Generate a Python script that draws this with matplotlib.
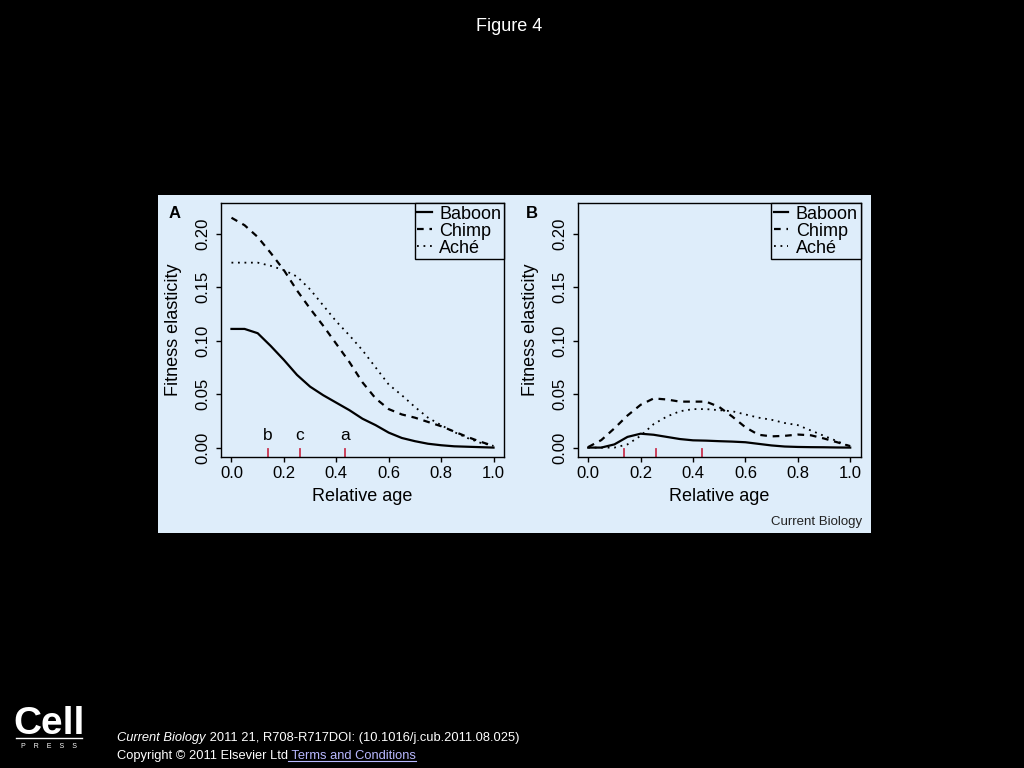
import matplotlib
matplotlib.use("Agg")
import matplotlib.pyplot as plt
from matplotlib.patches import Rectangle
from matplotlib.lines import Line2D

plt.rcParams['font.family'] = ['Liberation Sans', 'DejaVu Sans']

# relative age grid and fitness elasticities
age = [0.0, 0.05, 0.10, 0.15, 0.20, 0.25, 0.30, 0.35, 0.40, 0.45, 0.50,
       0.55, 0.60, 0.65, 0.70, 0.75, 0.80, 0.85, 0.90, 0.95, 1.0]

# panel A
baboon_a = [0.111, 0.111, 0.107, 0.095, 0.082, 0.068, 0.057, 0.049, 0.042, 0.035, 0.027,
            0.021, 0.014, 0.009, 0.006, 0.0036, 0.0022, 0.0012, 0.0008, 0.0004, 0.0]
chimp_a = [0.215, 0.208, 0.197, 0.182, 0.166, 0.147, 0.130, 0.114, 0.097, 0.080, 0.061,
           0.046, 0.036, 0.031, 0.028, 0.024, 0.020, 0.015, 0.010, 0.0055, 0.0016]
ache_a = [0.173, 0.173, 0.173, 0.170, 0.166, 0.160, 0.148, 0.133, 0.118, 0.105, 0.091,
          0.075, 0.059, 0.049, 0.038, 0.028, 0.021, 0.0145, 0.009, 0.0045, 0.0016]

# panel B
baboon_b = [0.0, 0.0, 0.003, 0.010, 0.013, 0.012, 0.010, 0.008, 0.0068, 0.0065, 0.0060,
            0.0056, 0.0050, 0.0035, 0.0020, 0.0010, 0.0006, 0.0004, 0.0003, 0.0001, 0.0]
chimp_b = [0.0005, 0.007, 0.018, 0.030, 0.040, 0.046, 0.045, 0.043, 0.043, 0.043, 0.038,
           0.029, 0.019, 0.012, 0.0105, 0.011, 0.0122, 0.0115, 0.0085, 0.005, 0.0014]
ache_b = [0.0, 0.0, 0.0, 0.003, 0.011, 0.022, 0.029, 0.034, 0.036, 0.036, 0.035,
          0.034, 0.031, 0.028, 0.026, 0.023, 0.021, 0.016, 0.011, 0.006, 0.0008]

rug_x = [0.138, 0.26, 0.435]
rug_labels = ['b', 'c', 'a']

x_ticks = [0.0, 0.2, 0.4, 0.6, 0.8, 1.0]
y_ticks = [0.00, 0.05, 0.10, 0.15, 0.20]

bg = '#deedfa'
rug_col = '#c8324e'

fig = plt.figure(figsize=(10.24, 7.68), dpi=100, facecolor='black')
fig.add_artist(Rectangle((158 / 1024, 1 - 533 / 768), 713 / 1024, 338 / 768,
                         transform=fig.transFigure, facecolor=bg, edgecolor='none',
                         zorder=-10))

panels = [
    ('A', 221, baboon_a, chimp_a, ache_a, True),
    ('B', 577.7, baboon_b, chimp_b, ache_b, False),
]

for letter, left_px, bab, chi, ach, show_letters in panels:
    ax = fig.add_axes([left_px / 1024, 1 - 457 / 768, 283 / 1024, 254 / 768])
    ax.set_facecolor(bg)
    ax.plot(age, bab, color='black', lw=1.6, ls='-', label='Baboon')
    ax.plot(age, chi, color='black', lw=1.6, ls=(0, (3, 2.6)), label='Chimp')
    ax.plot(age, ach, color='black', lw=1.3, ls=(0, (1, 2.6)), label='Aché')

    # rug marks
    for rx in rug_x:
        ax.axvline(rx, ymin=0, ymax=0.03, color=rug_col, lw=1.3)
    if show_letters:
        for rx, lab in zip(rug_x, rug_labels):
            ax.text(rx, 0.007, lab, ha='center', va='baseline', fontsize=12.5)

    ax.set_xlim(-0.04, 1.04)
    ax.set_ylim(-0.0088, 0.2288)
    ax.set_xticks(x_ticks)
    ax.set_xticklabels(['%.1f' % v for v in x_ticks])
    ax.set_yticks(y_ticks)
    ax.set_yticklabels(['%.2f' % v for v in y_ticks], rotation=90, va='center')
    ax.tick_params(direction='out', length=3.6, width=1, labelsize=12, colors='black')
    ax.tick_params(axis='x', pad=3)
    ax.tick_params(axis='y', pad=3.8)
    for s in ax.spines.values():
        s.set_linewidth(1)

    ax.set_xlabel('Relative age', fontsize=13)
    ax.xaxis.set_label_coords(0.5, -0.156)
    ax.xaxis.label.set_va('center')
    ax.set_ylabel('Fitness elasticity', fontsize=13)
    ax.yaxis.set_label_coords(-0.167, 0.5)
    ax.yaxis.label.set_va('center')

    leg = ax.legend(loc='upper right', fontsize=13, borderaxespad=0, fancybox=False,
                    framealpha=1, facecolor=bg, edgecolor='black', labelspacing=0.0,
                    handlelength=0.8, handletextpad=0.42, borderpad=0.15)
    leg.get_frame().set_linewidth(1)

    fig.text((left_px - 46.3) / 1024, 1 - 213 / 768, letter, fontsize=12,
             fontweight='bold', ha='center', va='center')

fig.text(862 / 1024, 1 - 525 / 768, 'Current Biology', fontsize=9.5,
         ha='right', va='baseline', color='#222222')

fig.text(509 / 1024, 1 - 31 / 768, 'Figure 4', fontsize=13, color='white',
         ha='center', va='baseline')

# Cell Press logo
fig.text(49 / 1024, 1 - 734 / 768, 'Cell', fontsize=28, fontweight='bold', color='white',
         ha='center', va='baseline')
fig.add_artist(Line2D([16 / 1024, 82 / 1024], [1 - 737.5 / 768, 1 - 737.5 / 768],
                      color='white', lw=1, transform=fig.transFigure))
fig.text(49 / 1024, 1 - 748 / 768, 'P    R    E    S    S', fontsize=5, color='white',
         ha='center', va='baseline')

# footer
renderer = fig.canvas.get_renderer()
t1 = fig.text(117 / 1024, 1 - 741 / 768, 'Current Biology', fontsize=9.3, style='italic',
              color='white', va='baseline')
x1 = t1.get_window_extent(renderer=renderer).x1 / 1024
fig.text(x1, 1 - 741 / 768, ' 2011 21, R708-R717DOI: (10.1016/j.cub.2011.08.025)',
         fontsize=9.3, color='white', va='baseline')
t3 = fig.text(117 / 1024, 1 - 759 / 768, 'Copyright \u00a9 2011 Elsevier Ltd', fontsize=9.3,
              color='white', va='baseline')
x3 = t3.get_window_extent(renderer=renderer).x1 / 1024
t4 = fig.text(x3, 1 - 759 / 768, ' Terms and Conditions', fontsize=9.3, color='#b8b8ff',
              va='baseline')
bb4 = t4.get_window_extent(renderer=renderer)
fig.add_artist(Line2D([x3, bb4.x1 / 1024], [1 - 761 / 768, 1 - 761 / 768],
                      color='#b8b8ff', lw=0.8, transform=fig.transFigure))

fig.savefig('out.png', dpi=100, facecolor='black')
